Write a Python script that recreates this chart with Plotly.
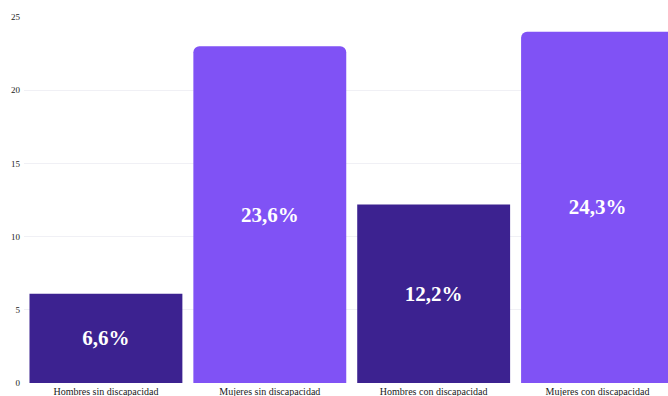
import plotly.graph_objects as go

categories = ["Hombres sin discapacidad", "Mujeres sin discapacidad",
              "Hombres con discapacidad", "Mujeres con discapacidad"]
bar_heights = [6.1, 23.0, 12.2, 24.0]
bar_labels = ["6,6%", "23,6%", "12,2%", "24,3%"]
is_women = [False, True, False, True]
y_ticks = [0, 5, 10, 15, 20, 25]

DARK = "#3C2290"
LIGHT = "#8052F5"
SERIF = "Liberation Serif"

fig = go.Figure()
for women, color, radius in [(False, DARK, 0), (True, LIGHT, 6)]:
    xs = [c for c, w in zip(categories, is_women) if w == women]
    ys = [h for h, w in zip(bar_heights, is_women) if w == women]
    ts = [t for t, w in zip(bar_labels, is_women) if w == women]
    fig.add_trace(go.Bar(
        x=xs, y=ys, text=ts,
        textposition="inside", insidetextanchor="middle",
        textangle=0,
        textfont=dict(family=SERIF, size=21, color="white", weight="bold"),
        marker=dict(color=color, line=dict(width=0), cornerradius=radius),
        hoverinfo="skip", showlegend=False,
    ))

fig.update_layout(
    width=668, height=396,
    margin=dict(l=24, r=0, t=17, b=13),
    paper_bgcolor="white", plot_bgcolor="white",
    font=dict(family=SERIF),
    barmode="overlay", bargap=0.067,
    uniformtext=dict(minsize=21, mode="show"),
    xaxis=dict(
        categoryorder="array", categoryarray=categories,
        range=[-0.5, 3.43], showgrid=False, zeroline=False, showline=False,
        ticks="", tickfont=dict(family=SERIF, size=10, color="#1a1a1a"),
        ticklabelstandoff=1,
    ),
    yaxis=dict(
        range=[0, 25], tickvals=y_ticks, showgrid=True,
        gridcolor="#F0F0F5", gridwidth=1, zeroline=False, showline=False,
        ticks="", tickfont=dict(family=SERIF, size=9, color="#222"),
        ticklabelstandoff=3,
    ),
)

fig.write_html("out.html")
